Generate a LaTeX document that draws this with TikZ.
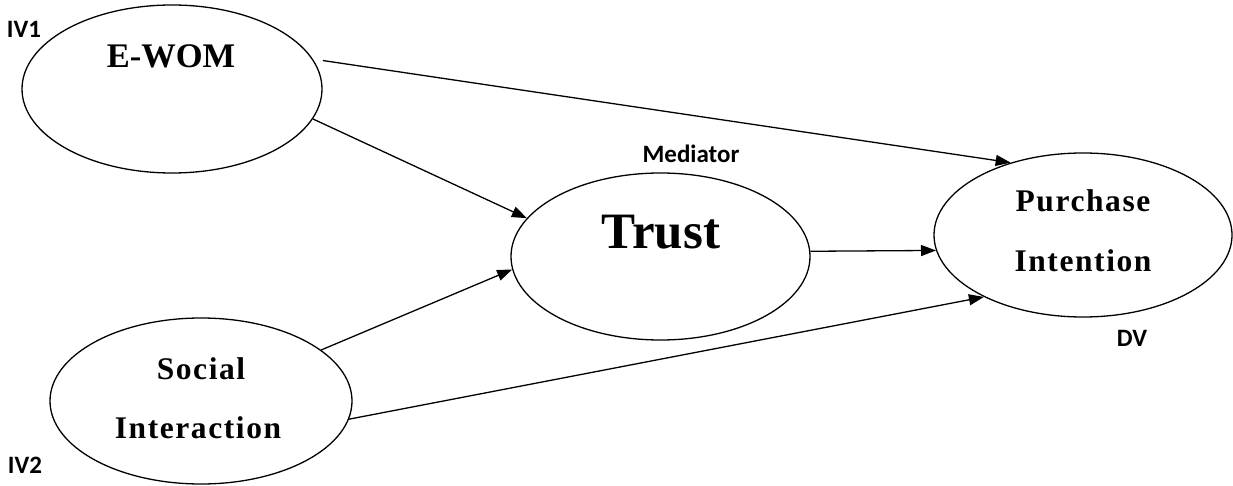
\documentclass[tikz,border=0pt]{standalone}
\usepackage{fontspec}
\setmainfont{Liberation Serif}
\newfontfamily\spacedserif[LetterSpace=5]{Liberation Serif}
\newfontfamily\labelsans{Carlito}
\usetikzlibrary{shapes.geometric,arrows.meta}
\begin{document}
\begin{tikzpicture}[x=1pt,y=-1pt,
  construct/.style={draw=black,line width=1.3pt,ellipse,inner sep=0pt},
  conn/.style={draw=black,line width=1.3pt,-{Triangle[length=15pt,width=11pt]}},
  tag/.style={font=\labelsans\fontsize{25}{30}\selectfont\bfseries,inner sep=0pt},
  big/.style={font=\bfseries,inner sep=0pt,anchor=base}
]
\useasboundingbox (0,0) rectangle (1233,486);
% ellipses
\node[construct,minimum width=300pt,minimum height=168pt] (ewom) at (172,89) {};
\node[construct,minimum width=299pt,minimum height=167pt] (trust) at (660.5,256.5) {};
\node[construct,minimum width=298pt,minimum height=164pt] (pi) at (1083,235) {};
\node[construct,minimum width=302pt,minimum height=166pt] (social) at (201,401) {};
% texts
\node[big,font=\fontsize{34.5}{40}\selectfont\bfseries] (tewom) at (171,68) {E-WOM};
\node[big,font=\fontsize{51}{60}\selectfont\bfseries] (ttrust) at (661,248) {Trust};
\node[big,font=\spacedserif\fontsize{31.5}{36}\selectfont\bfseries] (tpurch) at (1083,212) {Purchase};
\node[big,font=\spacedserif\fontsize{31.5}{36}\selectfont\bfseries] (tint) at (1083,271) {Intention};
\node[big,font=\spacedserif\fontsize{31.5}{36}\selectfont\bfseries] (tsoc) at (201,379) {Social};
\node[big,font=\spacedserif\fontsize{31.5}{36}\selectfont\bfseries] (tinter) at (198,438) {Interaction};
% tags
\node[tag] (iv1) at (24,29) {IV1};
\node[tag] (iv2) at (25,465) {IV2};
\node[tag] (med) at (691,154) {Mediator};
\node[tag] (dv) at (1132,338) {DV};
% connectors
\draw[conn,shorten <=10pt] (ewom.12) -- (pi.135.8);
\draw[conn] (ewom.-12) -- (trust.164.4);
\draw[conn] (social.23.2) -- (trust.185.2);
\draw[conn] (social.-7.3) -- (pi.212.2);
\draw[conn] (trust.2) -- (pi.186);
\end{tikzpicture}
\end{document}
